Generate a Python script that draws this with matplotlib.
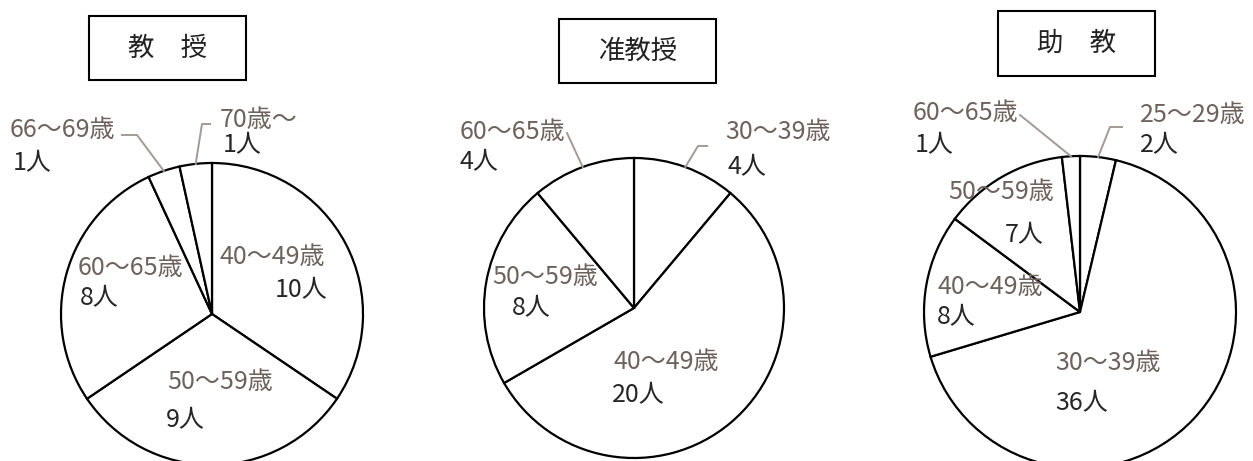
import numpy as np
import matplotlib
matplotlib.use('Agg')
from matplotlib import pyplot as plt
from matplotlib.patches import Rectangle

plt.rcParams['font.family'] = ['Noto Sans CJK JP', 'DejaVu Sans']

W, H = 1253, 461

titles = ['教　授', '准教授', '助　教']

prof_ages = ['40～49歳', '50～59歳', '60～65歳', '66～69歳', '70歳～']
prof_counts = [10, 9, 8, 1, 1]

assoc_ages = ['30～39歳', '40～49歳', '50～59歳', '60～65歳']
assoc_counts = [4, 20, 8, 4]

asst_ages = ['25～29歳', '30～39歳', '40～49歳', '50～59歳', '60～65歳']
asst_counts = [2, 36, 8, 7, 1]

AGE_COLOR = '#6e625c'
CNT_COLOR = '#262626'
LEAD_COLOR = '#a39a94'
FS = 18

# layout in image pixels (y down)
pies = [
    dict(ages=prof_ages, counts=prof_counts, center=(212, 314), r=151,
         box=(89, 16, 246, 80),
         labels=[((220, 257), (275, 290), None),
                 ((167, 382), (166, 420), None),
                 ((78, 268), (80, 298), None),
                 ((10, 130), (13, 163), [(122, 135), (137, 135)]),
                 ((220, 120), (223, 145), [(210, 124), (202, 124)])]),
    dict(ages=assoc_ages, counts=assoc_counts, center=(634, 308), r=150,
         box=(559, 19, 716, 83),
         labels=[((725, 132), (727, 167), [(707, 146), (698, 146)]),
                 ((613, 362), (612, 395), None),
                 ((492, 277), (512, 308), None),
                 ((460, 132), (460, 162), [(567, 133)])]),
    dict(ages=asst_ages, counts=asst_counts, center=(1080, 312), r=156,
         box=(998, 11, 1155, 76),
         labels=[((1140, 115), (1140, 145), [(1122, 127), (1110, 127)]),
                 ((1055, 363), (1055, 403), None),
                 ((937, 287), (937, 317), None),
                 ((948, 192), (1005, 235), None),
                 ((913, 113), (915, 145), [(1020, 115)])]),
]


def fy(y):
    return H - y


fig = plt.figure(figsize=(W / 100, H / 100), dpi=100)
ax = fig.add_axes([0, 0, 1, 1])

for p, title in zip(pies, titles):
    cx, cy = p['center']
    wedges, _ = ax.pie(p['counts'], center=(cx, fy(cy)), radius=p['r'],
                       startangle=90, counterclock=False, frame=True,
                       wedgeprops=dict(facecolor='white', edgecolor='black',
                                       linewidth=1.6))

    for w, age, n, (pa, pc, lead) in zip(wedges, p['ages'], p['counts'], p['labels']):
        ax.text(pa[0], fy(pa[1]), age, color=AGE_COLOR, fontsize=FS,
                ha='left', va='center')
        ax.text(pc[0], fy(pc[1]), f'{n}人', color=CNT_COLOR, fontsize=FS,
                ha='left', va='center')
        if lead:
            mid = np.deg2rad((w.theta1 + w.theta2) / 2)
            ex = w.center[0] + w.r * np.cos(mid)
            ey = w.center[1] + w.r * np.sin(mid)
            xs = [q[0] for q in lead] + [ex]
            ys = [fy(q[1]) for q in lead] + [ey]
            ax.plot(xs, ys, color=LEAD_COLOR, lw=1.4)

    x0, y0, x1, y1 = p['box']
    ax.add_patch(Rectangle((x0, fy(y1)), x1 - x0, y1 - y0, fill=False,
                           edgecolor='black', lw=1.5))
    ax.text((x0 + x1) / 2, fy((y0 + y1) / 2), title, fontsize=19,
            ha='center', va='center', color='#222222')

ax.set_xlim(0, W)
ax.set_ylim(0, H)
ax.set_aspect('equal')
ax.axis('off')

fig.savefig('out.png', dpi=100, facecolor='white')
